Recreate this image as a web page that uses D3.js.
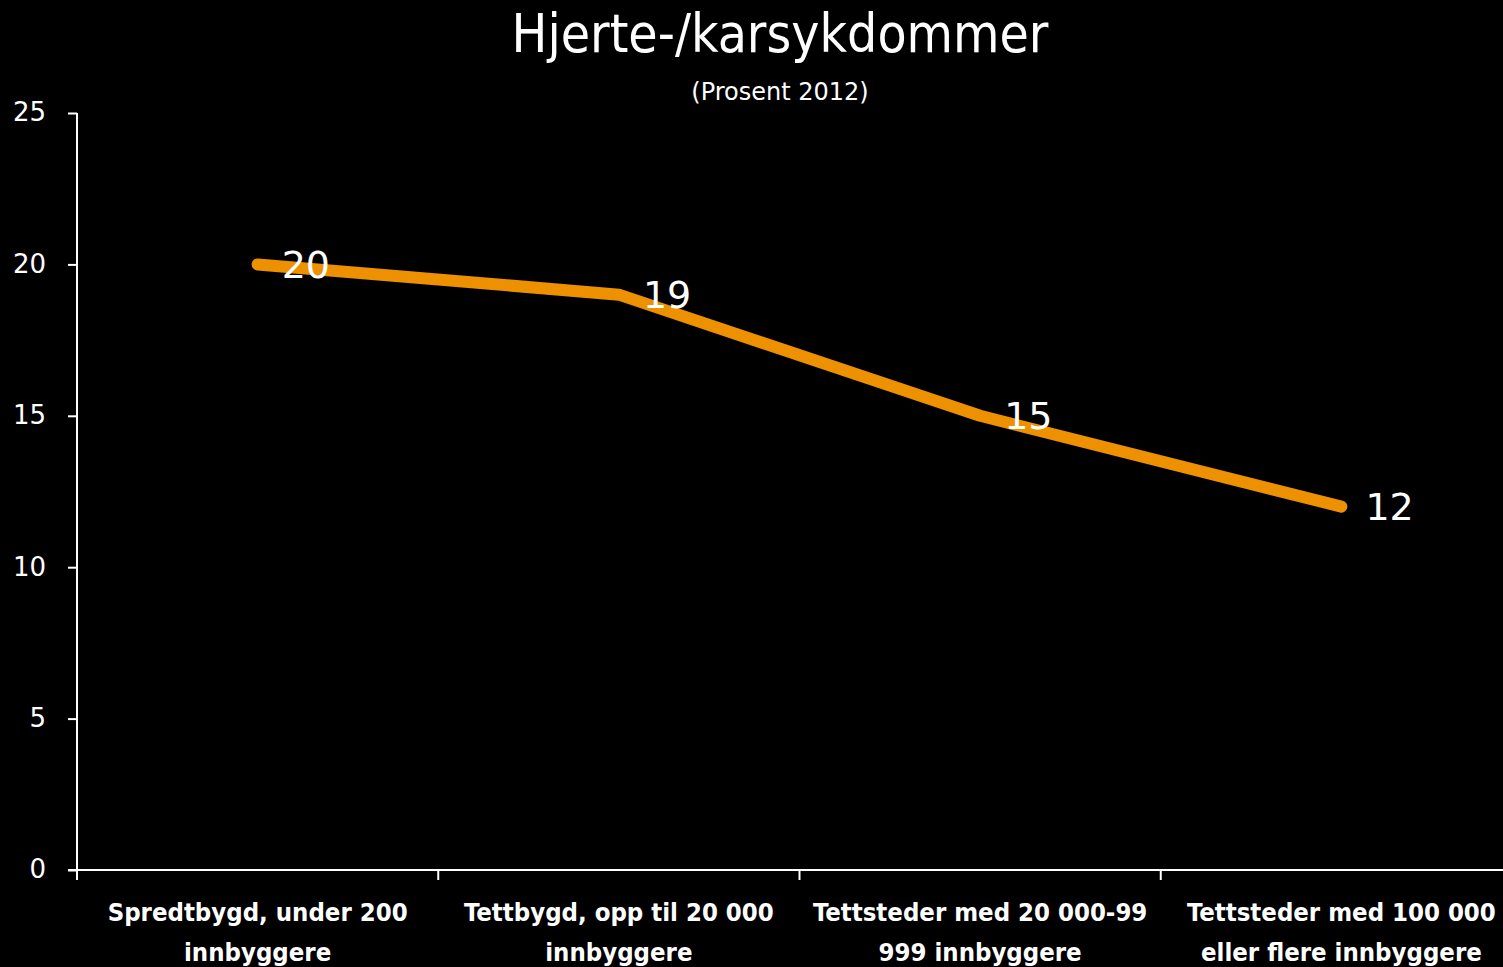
<!DOCTYPE html>
<html>
<head>
<meta charset="utf-8">
<script src="https://cdn.jsdelivr.net/npm/d3@7"></script>
<style>
  html, body { margin: 0; padding: 0; background: #000; }
  svg { display: block; }
  text { font-family: 'DejaVu Sans Condensed', 'DejaVu Sans', sans-serif; fill: #fff; font-stretch: condensed; }
</style>
</head>
<body>
<svg id="chart"></svg>
<script>
// Data
const categories = [
  ['Spredtbygd, under 200', 'innbyggere'],
  ['Tettbygd, opp til 20 000', 'innbyggere'],
  ['Tettsteder med 20 000-99', '999 innbyggere'],
  ['Tettsteder med 100 000', 'eller flere innbyggere']
];
const values = [20, 19, 15, 12];
const yTicks = [0, 5, 10, 15, 20, 25];

const width = 1503;
const height = 967;
const margin = { top: 113, right: -19, bottom: 97, left: 77 };

const svg = d3.select('#chart')
  .attr('width', width)
  .attr('height', height);

const x = d3.scaleBand()
  .domain(d3.range(categories.length))
  .range([margin.left, width - margin.right]);

const y = d3.scaleLinear()
  .domain([0, 25])
  .range([height - margin.bottom, margin.top]);

// Title
svg.append('text')
  .attr('x', 780).attr('y', 52)
  .attr('text-anchor', 'middle')
  .attr('font-size', 53)
  .text('Hjerte-/karsykdommer');

svg.append('text')
  .attr('x', 780).attr('y', 100)
  .attr('text-anchor', 'middle')
  .attr('font-size', 24)
  .style('font-family', "'DejaVu Sans', sans-serif")
  .style('font-stretch', 'normal')
  .text('(Prosent 2012)');

// Y axis
const yAxis = svg.append('g')
  .attr('transform', `translate(${margin.left},0)`)
  .call(d3.axisLeft(y).tickValues(yTicks).tickSize(9).tickSizeOuter(0).tickPadding(22));
yAxis.select('.domain').attr('stroke', '#fff').attr('stroke-width', 2)
  .attr('d', `M0,${y(25)}V${y(0) + 10}`);
yAxis.selectAll('.tick line').attr('stroke', '#fff').attr('stroke-width', 2);
yAxis.selectAll('.tick text')
  .attr('font-size', 26)
  .attr('dy', '0.3em')
  .attr('fill', '#fff')
  .style('font-family', "'DejaVu Sans', sans-serif")
  .style('font-stretch', 'normal');

// X axis
const xAxis = svg.append('g')
  .attr('transform', `translate(0,${y(0)})`)
  .call(d3.axisBottom(x).tickSize(0).tickFormat(''));
xAxis.select('.domain').attr('stroke', '#fff').attr('stroke-width', 2)
  .attr('d', `M${margin.left - 9},0H${width}`);
xAxis.selectAll('.tick line').remove();

// category separator ticks
svg.append('g').selectAll('line')
  .data(d3.range(1, categories.length))
  .join('line')
  .attr('x1', i => x(i)).attr('x2', i => x(i))
  .attr('y1', y(0)).attr('y2', y(0) + 10)
  .attr('stroke', '#fff').attr('stroke-width', 2);

// Category labels
const catLabels = svg.append('g').selectAll('text')
  .data(categories)
  .join('text')
  .attr('text-anchor', 'middle')
  .attr('font-size', 25.5)
  .attr('font-weight', 'bold');
catLabels.each(function(d, i) {
  const t = d3.select(this);
  d.forEach((line, j) => {
    t.append('tspan')
      .attr('x', x(i) + x.bandwidth() / 2)
      .attr('y', 921 + j * 40)
      .text(line);
  });
});

// Line
const line = d3.line()
  .x((d, i) => x(i) + x.bandwidth() / 2)
  .y(d => y(d));

svg.append('path')
  .datum(values)
  .attr('d', line)
  .attr('fill', 'none')
  .attr('stroke', '#ED9100')
  .attr('stroke-width', 12)
  .attr('stroke-linecap', 'round')
  .attr('stroke-linejoin', 'round');

// Data labels
svg.append('g').selectAll('text')
  .data(values)
  .join('text')
  .attr('x', (d, i) => x(i) + x.bandwidth() / 2 + 24)
  .attr('y', d => y(d))
  .attr('dy', '0.36em')
  .attr('font-size', 38)
  .style('font-family', "'DejaVu Sans', sans-serif")
  .style('font-stretch', 'normal')
  .text(d => d);
</script>
</body>
</html>
